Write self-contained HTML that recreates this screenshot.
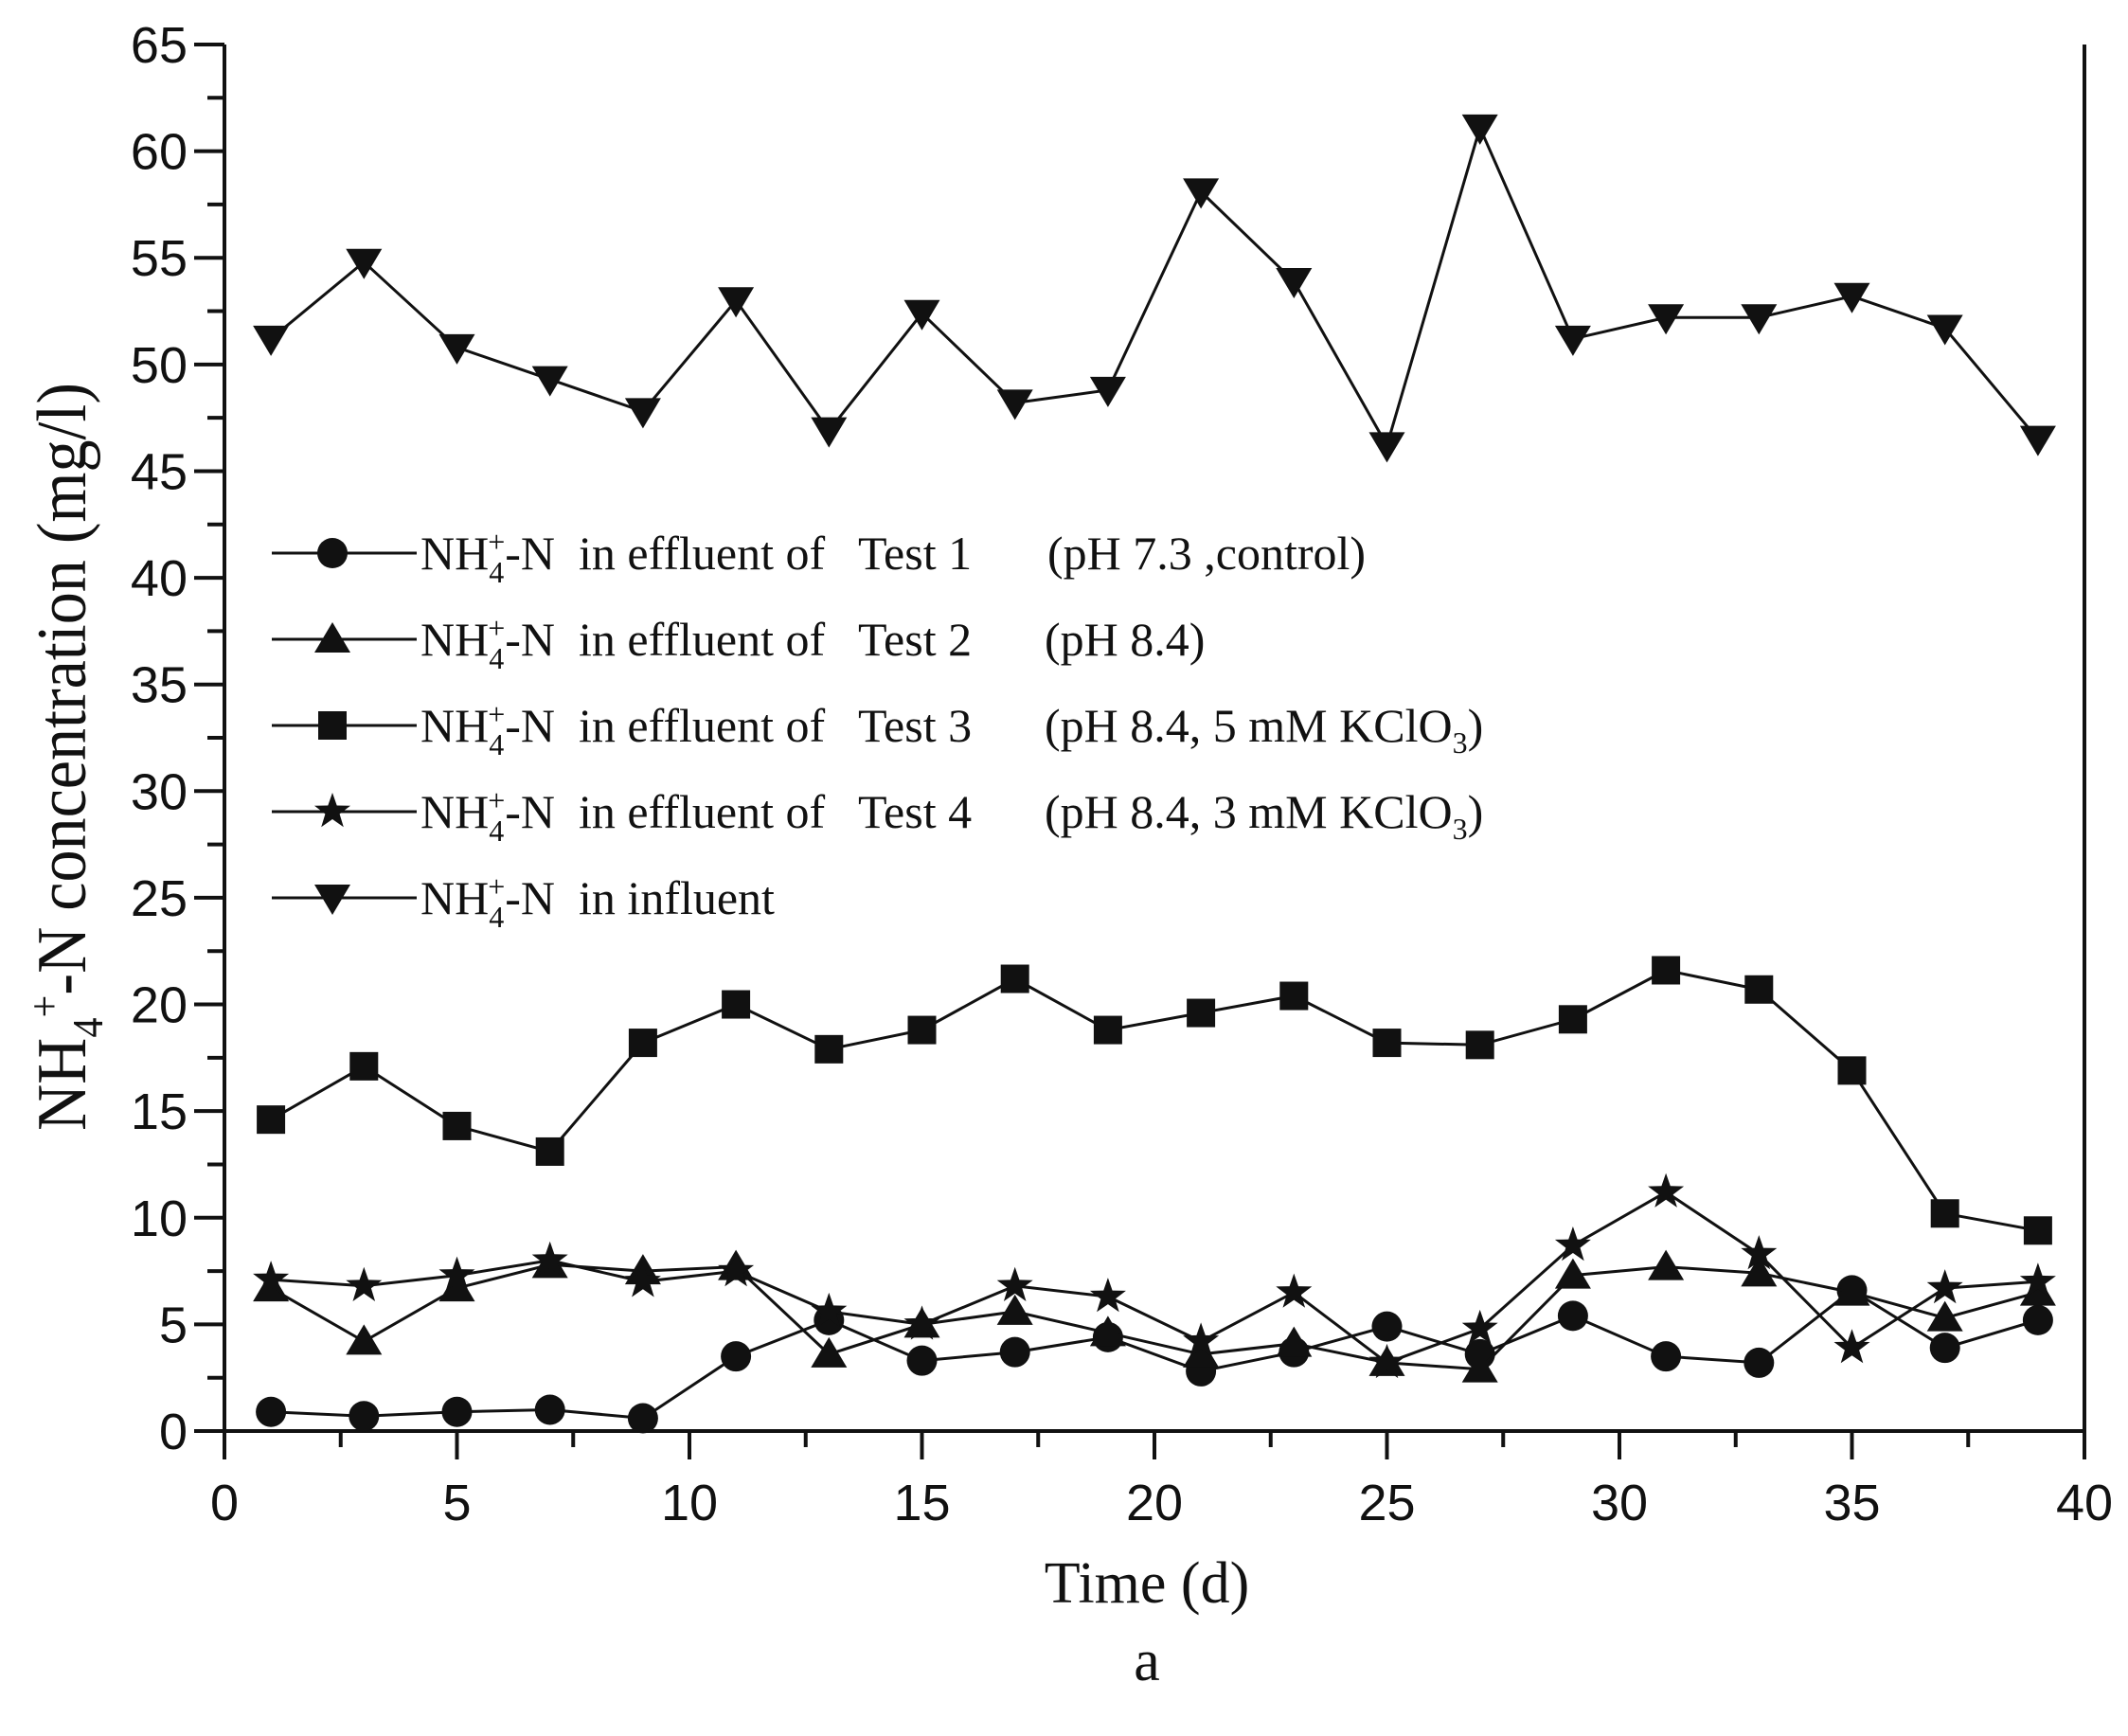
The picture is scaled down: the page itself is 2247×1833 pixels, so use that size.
<!DOCTYPE html>
<html><head><meta charset="utf-8"><style>
html,body{margin:0;padding:0;background:#fff;}
svg{display:block;}
.tk{font-family:"Liberation Sans",Arial,sans-serif;font-size:54px;fill:#111;}
.sr{font-family:"Liberation Serif","Times New Roman",serif;fill:#111;}
</style></head><body>
<svg id="chart" width="2247" height="1833" viewBox="0 0 2247 1833" xmlns="http://www.w3.org/2000/svg">
<g id="axes"></g>
<g id="series"></g>
<g id="legend"></g>
<text class="sr" x="1211" y="1692" font-size="62" text-anchor="middle">Time (d)</text>
<text class="sr" x="1211" y="1774" font-size="62" text-anchor="middle">a</text>
<text class="sr" transform="translate(90,799) rotate(-90)" font-size="74" text-anchor="middle" textLength="790" lengthAdjust="spacingAndGlyphs">NH<tspan font-size="46" dy="18">4</tspan><tspan font-size="46" dy="-46">+</tspan><tspan dy="28">-N concentration (mg/l)</tspan></text>
</svg>
<script>
const days = [1,3,5,7,9,11,13,15,17,19,21,23,25,27,29,31,33,35,37,39];
const test1 = [0.9,0.7,0.9,1.0,0.6,3.5,5.2,3.3,3.7,4.4,2.8,3.7,4.9,3.6,5.4,3.5,3.2,6.6,3.9,5.2];
const test2 = [6.7,4.2,6.7,7.8,7.5,7.7,3.6,5.0,5.6,4.6,3.6,4.1,3.2,2.9,7.3,7.7,7.4,6.5,5.3,6.5];
const test3 = [14.6,17.1,14.3,13.1,18.2,20.0,17.9,18.8,21.2,18.8,19.6,20.4,18.2,18.1,19.3,21.6,20.7,16.9,10.2,9.4];
const test4 = [7.1,6.8,7.3,8.0,7.0,7.5,5.6,5.0,6.8,6.3,4.2,6.5,3.2,4.8,8.7,11.2,8.3,3.9,6.7,7.0];
const influent = [51.2,54.8,50.8,49.3,47.8,53.0,46.9,52.4,48.2,48.8,58.1,53.9,46.2,61.1,51.2,52.2,52.2,53.2,51.7,46.5];
const xTicks = [0,5,10,15,20,25,30,35,40];
const yTicks = [0,5,10,15,20,25,30,35,40,45,50,55,60,65];

const NS="http://www.w3.org/2000/svg";
const X0=237,X1=2201,Y0=1511,Y1=47;
function sx(v){return X0+(v-0)/(40-0)*(X1-X0);}
function sy(v){return Y0-(v-0)/(65-0)*(Y0-Y1);}
function mk(tag,attrs,parent){const e=document.createElementNS(NS,tag);for(const k in attrs)e.setAttribute(k,attrs[k]);parent.appendChild(e);return e;}
const axes=document.getElementById('axes');
let e;
e=mk('line',{x1:X0,y1:Y0,x2:X1,y2:Y0,stroke:'#111','stroke-width':4},axes);


e=mk('line',{x1:X0,y1:Y0,x2:X0,y2:Y1,stroke:'#111','stroke-width':4},axes);


e=mk('line',{x1:X1,y1:Y0,x2:X1,y2:Y1,stroke:'#111','stroke-width':4},axes);


for(let v=0;v<=40;v+=2.5){
  const major=(v%5===0);
  e=mk('line',{x1:sx(v),y1:Y0,x2:sx(v),y2:Y0+(major?30:17),stroke:'#111','stroke-width':4},axes);
  
  
}
xTicks.forEach(v=>{
  e=mk('text',{x:sx(v),y:1605,'text-anchor':'middle',class:'tk'},axes);
  e.textContent=v;
  
  
});
for(let v=0;v<=65;v+=2.5){
  const major=(v%5===0);
  e=mk('line',{x1:X0,y1:sy(v),x2:X0-(major?32:18),y2:sy(v),stroke:'#111','stroke-width':4},axes);
  
  
}
yTicks.forEach(v=>{
  e=mk('text',{x:198,y:sy(v)+19,'text-anchor':'end',class:'tk'},axes);
  e.textContent=v;
  
  
});

function marker(type,x,y,parent){
  let m;
  if(type==='circle'){m=mk('circle',{cx:x,cy:y,r:16,fill:'#111'},parent);}
  else if(type==='square'){m=mk('rect',{x:x-15,y:y-15,width:30,height:30,fill:'#111'},parent);}
  else if(type==='up'){m=mk('polygon',{points:`${x},${y-18} ${x+19},${y+14} ${x-19},${y+14}`,fill:'#111'},parent);}
  else if(type==='down'){m=mk('polygon',{points:`${x-19},${y-14} ${x+19},${y-14} ${x},${y+18}`,fill:'#111'},parent);}
  else {
    let p=[];for(let i=0;i<10;i++){const a=-Math.PI/2+i*Math.PI/5;const r=(i%2===0)?20:8;p.push((x+r*Math.cos(a)).toFixed(1)+','+(y+r*Math.sin(a)).toFixed(1));}
    m=mk('polygon',{points:p.join(' '),fill:'#111'},parent);
  }
  return m;
}
const seriesList=[
  {name:'test1',vals:test1,m:'circle'},
  {name:'test2',vals:test2,m:'up'},
  {name:'test3',vals:test3,m:'square'},
  {name:'test4',vals:test4,m:'star'},
  {name:'influent',vals:influent,m:'down'}
];
const sg=document.getElementById('series');
seriesList.forEach(s=>{
  const g=mk('g',{},sg);
  
  
  const pts=s.vals.map((v,i)=>sx(days[i]).toFixed(1)+','+sy(v).toFixed(1)).join(' ');
  const l=mk('polyline',{points:pts,fill:'none',stroke:'#111','stroke-width':3},g);
  
  
  s.vals.forEach((v,i)=>{
    const m=marker(s.m,sx(days[i]),sy(v),g);
    
    
  });
});

const lg=document.getElementById('legend');
const rows=[
  {m:'circle',test:'Test 1',note:'(pH 7.3 ,control)',px:1106},
  {m:'up',test:'Test 2',note:'(pH 8.4)',px:1103},
  {m:'square',test:'Test 3',note:'(pH 8.4, 5 mM KClO<tspan font-size="32" dy="12">3</tspan><tspan dy="-12">)</tspan>',px:1103},
  {m:'star',test:'Test 4',note:'(pH 8.4, 3 mM KClO<tspan font-size="32" dy="12">3</tspan><tspan dy="-12">)</tspan>',px:1103},
  {m:'down',test:null}
];
rows.forEach((r,i)=>{
  const y=584+91*i;
  const g=mk('g',{},lg);
  
  
  mk('line',{x1:287,y1:y,x2:440,y2:y,stroke:'#111','stroke-width':3},g);
  marker(r.m,351,y,g);
  const t=mk('text',{x:444,y:y+17,class:'sr','font-size':50},g);
  const head='NH<tspan font-size="32" dy="14">4</tspan><tspan font-size="32" dx="-17" dy="-32">+</tspan><tspan dy="18">-N  in </tspan>';
  t.setAttribute('xml:space','preserve');
  t.style.whiteSpace='pre';
  t.innerHTML=head+(r.test?'effluent of':'influent');
  if(r.test){
    const t2=mk('text',{x:906,y:y+17,class:'sr','font-size':50},g);
    t2.textContent=r.test;
    const t3=mk('text',{x:r.px,y:y+17,class:'sr','font-size':50},g);
    t3.innerHTML=r.note;
  }
});
</script>
</body></html>
